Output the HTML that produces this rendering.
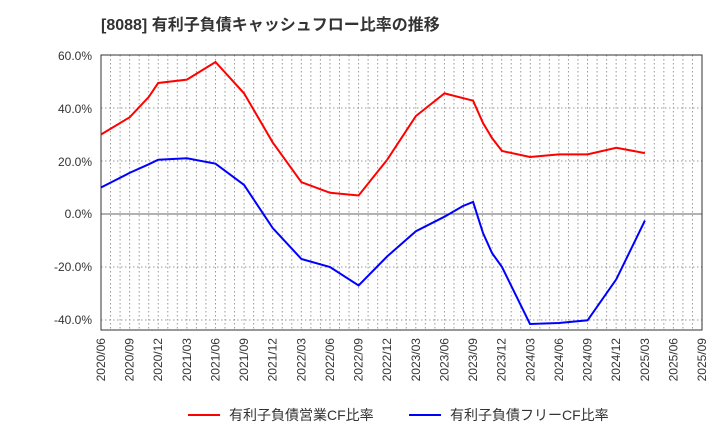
<!DOCTYPE html><html><head><meta charset="utf-8"><style>body{margin:0;background:#fff}svg{font-family:"Liberation Sans","Noto Sans CJK JP",sans-serif}</style></head><body>
<svg width="720" height="440" xmlns="http://www.w3.org/2000/svg">
<text x="101" y="30" font-size="16" font-weight="bold" fill="#333">[8088]  有利子負債キャッシュフロー比率の推移</text>
<g id="grid" stroke="#999" stroke-width="1" stroke-dasharray="1.5,2.5"></g>
<line x1="101" y1="214" x2="702" y2="214" stroke="#666" stroke-width="1"/>
<rect x="101" y="55" width="601" height="275" fill="none" stroke="#333" stroke-width="1"/>
<g font-size="12" fill="#333" text-anchor="end">
<text x="92" y="60">60.0%</text><text x="92" y="113">40.0%</text><text x="92" y="166">20.0%</text><text x="92" y="218">0.0%</text><text x="92" y="271">-20.0%</text><text x="92" y="324">-40.0%</text>
</g>
<g id="xl" font-size="12" fill="#333"></g>
<polyline fill="none" stroke="#f00" stroke-width="2" points="101,134.5 129.6,117.3 148.7,97 158.2,83 186.9,79.6 215.5,62 244.1,93.4 272.7,142.4 301.4,182.2 330,192.8 358.6,195.5 387.2,159.7 415.9,116 444.5,93.4 473.1,100.7 483,123 492,138 502,151 530,157 559,154.4 587.6,154.4 616.3,147.8 644.9,153.1"/>
<polyline fill="none" stroke="#00f" stroke-width="2" points="101,187.5 129.6,172.9 148.7,164.3 158.2,159.7 186.9,158.3 215.5,163.7 244.1,185 272.7,228 301.4,259 330,267 358.6,285.5 387.2,256.4 415.9,231.2 444.5,216.7 463,206 473.1,202 483,233 492,253 502,267 530,324 559,323 587.6,320.3 616.3,279.3 644.9,220.6"/>
<g font-size="14" fill="#333">
<line x1="188" y1="415" x2="220" y2="415" stroke="#f00" stroke-width="2"/><text x="229" y="420">有利子負債営業CF比率</text>
<line x1="409" y1="415" x2="441" y2="415" stroke="#00f" stroke-width="2"/><text x="450" y="420">有利子負債フリーCF比率</text>
</g>
<script>
var g=document.getElementById('grid'),xl=document.getElementById('xl'),ns='http://www.w3.org/2000/svg';
for(var m=1;m<63;m++){var x=101+m*601/63;var l=document.createElementNS(ns,'line');l.setAttribute('x1',x);l.setAttribute('x2',x);l.setAttribute('y1',55);l.setAttribute('y2',330);g.appendChild(l);}
[108,161,267,320].forEach(function(y){var l=document.createElementNS(ns,'line');l.setAttribute('x1',101);l.setAttribute('x2',702);l.setAttribute('y1',y);l.setAttribute('y2',y);g.appendChild(l);});
var ms=['06','09','12','03'];
for(var i=0;i<22;i++){var yr=2020+Math.floor((i+1)/4);var x=101+i*601/21;var t=document.createElementNS(ns,'text');t.setAttribute('transform','translate('+(x+4)+',338) rotate(-90)');t.setAttribute('text-anchor','end');t.textContent=yr+'/'+ms[i%4];xl.appendChild(t);}
</script>
</svg></body></html>
